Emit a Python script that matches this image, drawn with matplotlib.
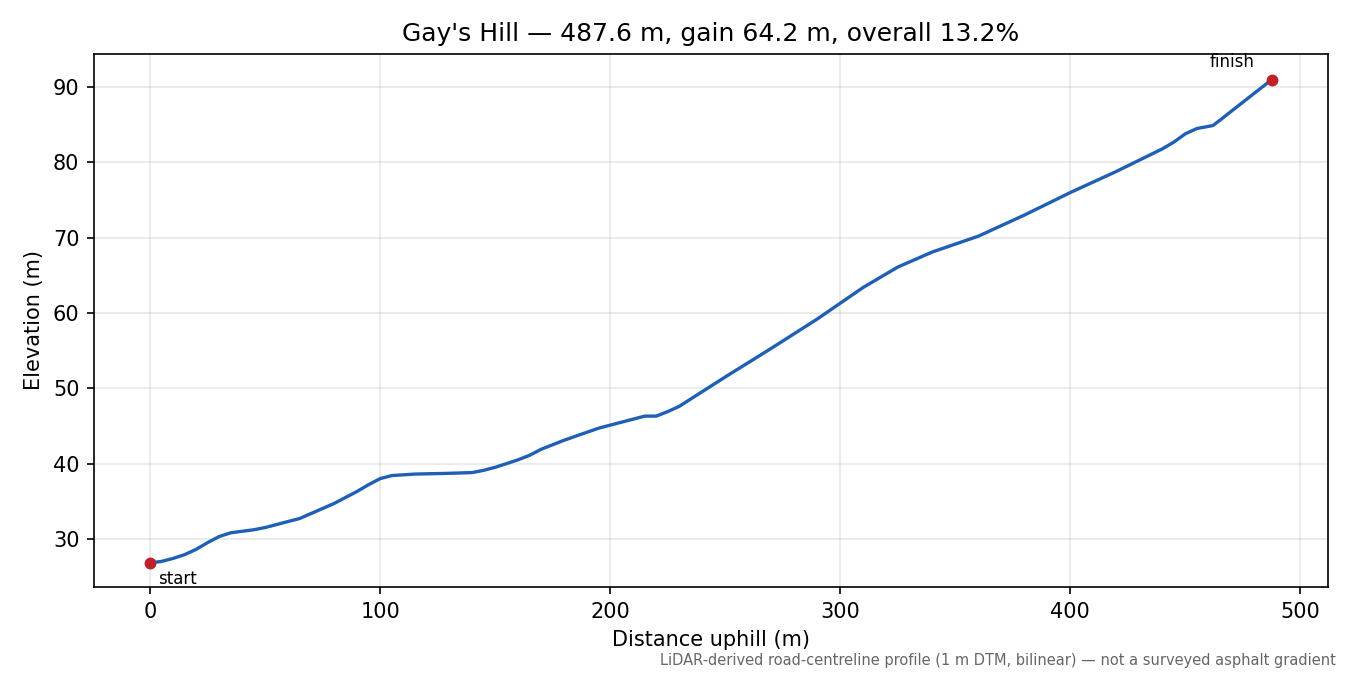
import matplotlib
matplotlib.use("Agg")
import matplotlib.pyplot as plt

dist = [0,5,10,15,20,25,30,35,40,45,50,65,80,90,95,100,105,115,130,140,145,150,160,165,170,180,195,205,215,220,225,230,250,270,290,310,325,340,360,380,400,420,430,440,445,450,455,462,465,470,480,487.6]
elev = [26.8,27.0,27.4,27.9,28.6,29.5,30.3,30.8,31.0,31.2,31.5,32.7,34.7,36.3,37.2,38.0,38.4,38.6,38.7,38.8,39.1,39.5,40.5,41.1,41.9,43.1,44.7,45.5,46.3,46.3,46.9,47.6,51.5,55.3,59.2,63.4,66.1,68.1,70.2,73.0,76.0,78.8,80.3,81.8,82.7,83.8,84.5,84.9,85.6,86.8,89.2,91.0]

fig = plt.figure(figsize=(9, 4.5), dpi=150)
ax = fig.add_axes([94/1350, 1-587/675, (1328-94)/1350, (587-54)/675])
ax.plot(dist, elev, color="#1f5fb4", lw=1.6)
ax.scatter([dist[0], dist[-1]], [elev[0], elev[-1]], color="#c0202a", s=22, zorder=3)
ax.annotate("start", (dist[0], elev[0]), xytext=(4, -10), textcoords="offset points", fontsize=8)
ax.annotate("finish", (dist[-1], elev[-1]), xytext=(-30, 6), textcoords="offset points", fontsize=8)
ax.set_xlim(-24.4, 512)
ax.set_ylim(23.6, 94.4)
ax.grid(True, alpha=0.3)
ax.set_xlabel("Distance uphill (m)")
ax.set_ylabel("Elevation (m)")
ax.set_title("Gay's Hill — 487.6 m, gain 64.2 m, overall 13.2%", fontsize=12)
fig.text(1336/1350, 1-660/675, "LiDAR-derived road-centreline profile (1 m DTM, bilinear) — not a surveyed asphalt gradient",
         ha="right", va="center", fontsize=7, color="#666666")
fig.savefig("out.png", dpi=150)
